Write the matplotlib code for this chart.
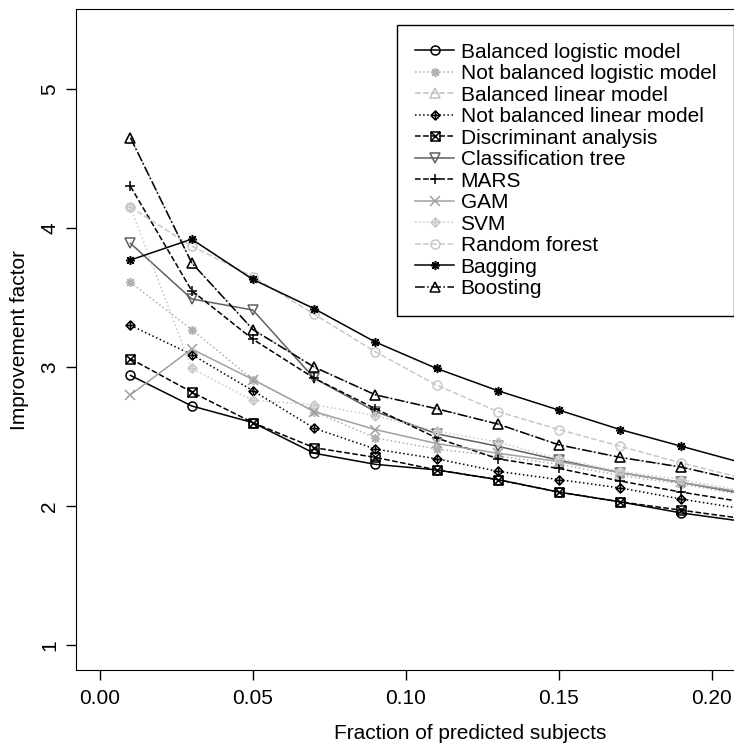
import numpy as np
import matplotlib
matplotlib.use('Agg')
import matplotlib.pyplot as plt
from matplotlib.path import Path

plt.rcParams['font.family'] = ['Liberation Sans', 'DejaVu Sans']

# fraction of predicted subjects
frac = [0.01, 0.03, 0.05, 0.07, 0.09, 0.11, 0.13, 0.15, 0.17, 0.19, 0.21]

bal_logistic = [2.94, 2.72, 2.60, 2.38, 2.30, 2.26, 2.19, 2.10, 2.03, 1.95, 1.89]
nb_logistic = [3.61, 3.27, 2.91, 2.68, 2.49, 2.41, 2.36, 2.30, 2.22, 2.16, 2.08]
bal_linear = [4.65, 3.75, 3.27, 3.00, 2.80, 2.70, 2.59, 2.44, 2.35, 2.28, 2.18]
nb_linear = [3.30, 3.09, 2.83, 2.56, 2.41, 2.34, 2.25, 2.19, 2.13, 2.05, 1.98]
discrim = [3.06, 2.82, 2.60, 2.42, 2.35, 2.26, 2.19, 2.10, 2.03, 1.97, 1.91]
tree = [3.89, 3.49, 3.41, 2.92, 2.68, 2.52, 2.43, 2.33, 2.24, 2.17, 2.09]
mars = [4.30, 3.55, 3.20, 2.92, 2.70, 2.49, 2.34, 2.27, 2.18, 2.10, 2.03]
gam = [2.80, 3.13, 2.91, 2.68, 2.55, 2.45, 2.38, 2.32, 2.24, 2.17, 2.10]
svm = [4.15, 2.99, 2.76, 2.73, 2.65, 2.54, 2.46, 2.34, 2.25, 2.19, 2.11]
rforest = [4.15, 3.87, 3.65, 3.38, 3.11, 2.87, 2.68, 2.55, 2.43, 2.31, 2.20]
bagging = [3.77, 3.92, 3.63, 3.42, 3.18, 2.99, 2.83, 2.69, 2.55, 2.43, 2.31]
boosting = [4.65, 3.75, 3.27, 3.00, 2.80, 2.70, 2.59, 2.44, 2.35, 2.28, 2.18]

# R-like symbols: diamond with plus, square with cross
sq = Path.unit_rectangle()
sq = Path(sq.vertices - 0.5, sq.codes)
xx = Path([(-0.5, -0.5), (0.5, 0.5), (-0.5, 0.5), (0.5, -0.5)],
          [Path.MOVETO, Path.LINETO, Path.MOVETO, Path.LINETO])
sq_x = Path.make_compound_path(sq, xx)
dia = Path([(0, -0.7), (0.7, 0), (0, 0.7), (-0.7, 0), (0, -0.7)],
           [Path.MOVETO, Path.LINETO, Path.LINETO, Path.LINETO, Path.CLOSEPOLY])
pl = Path([(-0.7, 0), (0.7, 0), (0, -0.7), (0, 0.7)],
          [Path.MOVETO, Path.LINETO, Path.MOVETO, Path.LINETO])
dia_plus = Path.make_compound_path(dia, pl)
asterisk = (8, 2, 0)

series = [
    ('Balanced logistic model', bal_logistic, 'black', '-', 'o'),
    ('Not balanced logistic model', nb_logistic, '#b0b0b0', ':', asterisk),
    ('Balanced linear model', bal_linear, '#c0c0c0', '--', '^'),
    ('Not balanced linear model', nb_linear, 'black', ':', dia_plus),
    ('Discriminant analysis', discrim, 'black', '--', sq_x),
    ('Classification tree', tree, '#606060', '-', 'v'),
    ('MARS', mars, 'black', '--', '+'),
    ('GAM', gam, '#a0a0a0', '-', 'x'),
    ('SVM', svm, '#c8c8c8', ':', dia_plus),
    ('Random forest', rforest, '#c8c8c8', '--', 'o'),
    ('Bagging', bagging, 'black', '-', asterisk),
    ('Boosting', boosting, 'black', '-.', '^'),
]

fig = plt.figure(figsize=(7.34, 7.43), dpi=100)
ax = fig.add_axes([0.1035, 0.0982, 1.075, 0.8897])

for name, vals, col, ls, mk in series:
    ax.plot(frac, vals, color=col, linestyle=ls, linewidth=1.1, marker=mk,
            markersize=6.5, markerfacecolor='none', markeredgecolor=col,
            markeredgewidth=1.1, label=name)

ax.set_xlim(-0.0078, 0.25)
ax.set_ylim(0.82, 5.576)
ax.set_xticks([0.00, 0.05, 0.10, 0.15, 0.20])
ax.set_xticklabels(['0.00', '0.05', '0.10', '0.15', '0.20'])
ax.set_yticks([1, 2, 3, 4, 5])
ax.tick_params(axis='both', labelsize=15, length=7, width=1, pad=5)
ax.tick_params(axis='x', pad=7)
for lab in ax.get_yticklabels():
    lab.set_rotation(90)
    lab.set_va('center')
ax.set_xlabel('Fraction of predicted subjects', fontsize=15, labelpad=11)
ax.set_ylabel('Improvement factor', fontsize=15, labelpad=8)

leg = ax.legend(loc='upper left', bbox_to_anchor=(397 / 734, 1 - 25 / 743),
                bbox_transform=fig.transFigure, borderaxespad=0,
                fontsize=15, handlelength=1.9, handletextpad=0.3,
                labelspacing=0.12, borderpad=0.85,
                fancybox=False, framealpha=1, edgecolor='black')
leg.get_frame().set_linewidth(1)

fig.savefig('out.png', dpi=100)
